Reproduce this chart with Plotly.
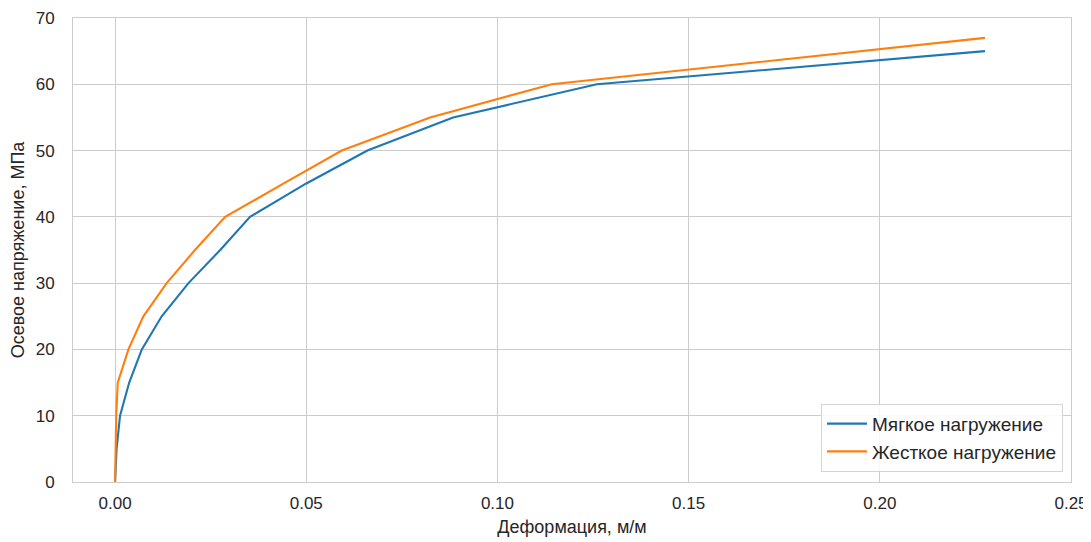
import plotly.graph_objects as go

stress_soft = [0, 5, 10, 15, 20, 25, 30, 35, 40, 45, 50, 55, 60, 65]
strain_soft = [0.0, 0.0004, 0.0013, 0.0037, 0.0070, 0.0122, 0.0192, 0.0275, 0.0353,
               0.0499, 0.0660, 0.0884, 0.1260, 0.2275]

stress_hard = [0, 5, 10, 15, 20, 25, 30, 35, 40, 45, 50, 55, 60, 67]
strain_hard = [0.0, 0.0001, 0.0003, 0.0007, 0.0035, 0.0074, 0.0135, 0.0209, 0.0288,
               0.0440, 0.0593, 0.0824, 0.1142, 0.2275]

name_soft = "Мягкое нагружение"
name_hard = "Жесткое нагружение"
x_title = "Деформация, м/м"
y_title = "Осевое напряжение, МПа"

fig = go.Figure()
fig.add_trace(go.Scatter(x=strain_soft, y=stress_soft, mode="lines", name=name_soft,
                         line=dict(color="#1f77b4", width=2.1)))
fig.add_trace(go.Scatter(x=strain_hard, y=stress_hard, mode="lines", name=name_hard,
                         line=dict(color="#ff7f0e", width=2.1)))

font = "Liberation Sans, Arial, sans-serif"
txt = "#262626"
fig.update_layout(
    width=1083, height=534,
    margin=dict(l=65, r=20, t=10, b=60, autoexpand=False),
    paper_bgcolor="white", plot_bgcolor="white",
    font=dict(family=font, size=17, color=txt),
    showlegend=True,
    legend=dict(x=0.992, xanchor="right", y=0.022, yanchor="bottom",
                bgcolor="rgba(255,255,255,0.85)", bordercolor="#d4d4d4", borderwidth=1,
                font=dict(size=19, color=txt), itemwidth=40, tracegroupgap=0),
)
fig.update_xaxes(
    range=[-0.011, 0.25], dtick=0.05, tick0=0, tickformat=".2f",
    showgrid=True, gridcolor="#cccccc", gridwidth=1, zeroline=False,
    showline=True, linecolor="#cccccc", linewidth=1, mirror=True,
    ticks="outside", ticklen=6, tickcolor="rgba(0,0,0,0)",
    tickfont=dict(size=17, color=txt), automargin=False,
    title=dict(text=x_title, font=dict(size=18, color=txt), standoff=7),
)
fig.update_yaxes(
    range=[0, 70], dtick=10, tick0=0,
    showgrid=True, gridcolor="#cccccc", gridwidth=1, zeroline=False,
    showline=True, linecolor="#cccccc", linewidth=1, mirror=True,
    ticks="outside", ticklen=14, tickcolor="rgba(0,0,0,0)",
    tickfont=dict(size=17, color=txt), automargin=False,
    title=dict(text=y_title, font=dict(size=18, color=txt), standoff=8),
)

fig.write_html("out.html")
